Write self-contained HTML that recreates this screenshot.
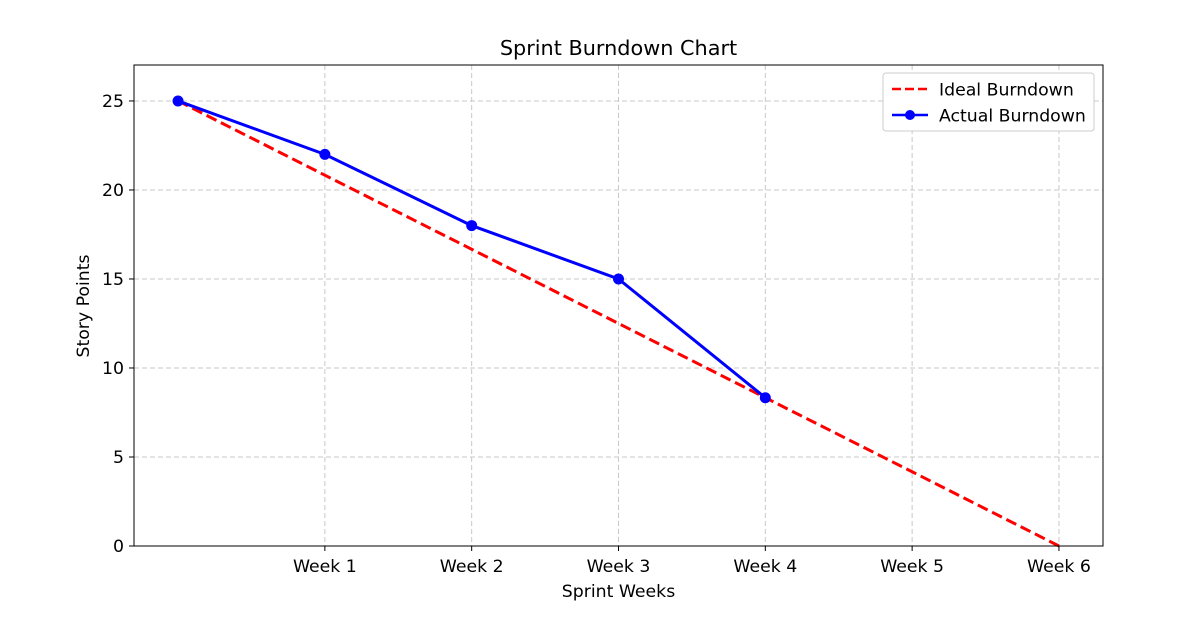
<!DOCTYPE html>
<html><head><meta charset="utf-8"><style>
body{margin:0;background:#fff;}
svg text{font-family:"DejaVu Sans","Liberation Sans",sans-serif;fill:#000;}
</style></head><body>
<svg id="chart" width="1185" height="613" xmlns="http://www.w3.org/2000/svg">
<text x="618.5" y="55" font-size="20.8" text-anchor="middle">Sprint Burndown Chart</text>
<g id="grid"></g>
<g id="ticks"></g>
<g id="series"></g>
<rect x="134" y="65" width="969" height="481" fill="none" stroke="#000" stroke-width="1"/>
<text x="618.5" y="597" font-size="17.3" text-anchor="middle">Sprint Weeks</text>
<text transform="translate(89,306) rotate(-90)" font-size="17.3" text-anchor="middle">Story Points</text>
<g>
<rect x="883" y="73" width="211" height="58" rx="3" fill="#fff" stroke="#ccc"/>
<line x1="892" y1="89" x2="928" y2="89" stroke="red" stroke-width="2.5" stroke-dasharray="9,4"/>
<text x="939" y="95.5" font-size="17.3">Ideal Burndown</text>
<line x1="892" y1="115" x2="928" y2="115" stroke="blue" stroke-width="2.5"/>
<circle cx="910" cy="115" r="5" fill="blue"/>
<text x="939" y="121.5" font-size="17.3">Actual Burndown</text>
</g>
</svg>
<script>
const xTickLabels=["Week 1","Week 2","Week 3","Week 4","Week 5","Week 6"];
const xTickPositions=[1,2,3,4,5,6];
const yTicks=[0,5,10,15,20,25];
const idealX=[0,1,2,3,4,5,6];
const idealValues=[25,20.83,16.67,12.5,8.33,4.17,0];
const actualX=[0,1,2,3,4];
const actualValues=[25,22,18,15,8.33];
const NS="http://www.w3.org/2000/svg";
const L=134,R=1103,T=65,B=546,xmin=-0.3,xmax=6.3,ymin=0,ymax=27.02;
const sx=v=>L+(v-xmin)/(xmax-xmin)*(R-L);
const sy=v=>B-(v-ymin)/(ymax-ymin)*(B-T);
function mk(tag,attrs,parent){const e=document.createElementNS(NS,tag);for(const k in attrs)e.setAttribute(k,attrs[k]);parent.appendChild(e);return e;}
const grid=document.getElementById('grid'),ticks=document.getElementById('ticks'),series=document.getElementById('series');
xTickPositions.forEach((p,i)=>{
 const g=mk('line',{x1:sx(p),x2:sx(p),y1:T,y2:B,stroke:'#c8c8c8','stroke-dasharray':'5,3'},grid);
 
 
 mk('line',{x1:sx(p),x2:sx(p),y1:B,y2:B+5,stroke:'#000'},ticks);
 const t=mk('text',{x:sx(p),y:B+26,'font-size':17.3,'text-anchor':'middle'},ticks);
 t.textContent=xTickLabels[i];
 
 
});
yTicks.forEach(v=>{
 const g=mk('line',{x1:L,x2:R,y1:sy(v),y2:sy(v),stroke:'#c8c8c8','stroke-dasharray':'5,3'},grid);
 
 
 mk('line',{x1:L-5,x2:L,y1:sy(v),y2:sy(v),stroke:'#000'},ticks);
 const t=mk('text',{x:L-10,y:sy(v)+6,'font-size':17.3,'text-anchor':'end'},ticks);
 t.textContent=v;
 
 
});
const ideal=mk('polyline',{points:idealX.map((x,i)=>sx(x)+','+sy(idealValues[i])).join(' '),fill:'none',stroke:'red','stroke-width':3,'stroke-dasharray':'11,5'},series);


const act=mk('polyline',{points:actualX.map((x,i)=>sx(x)+','+sy(actualValues[i])).join(' '),fill:'none',stroke:'blue','stroke-width':3},series);


actualX.forEach((x,i)=>{
 const c=mk('circle',{cx:sx(x),cy:sy(actualValues[i]),r:5.5,fill:'blue'},series);
 
 
});
</script>
</body></html>
